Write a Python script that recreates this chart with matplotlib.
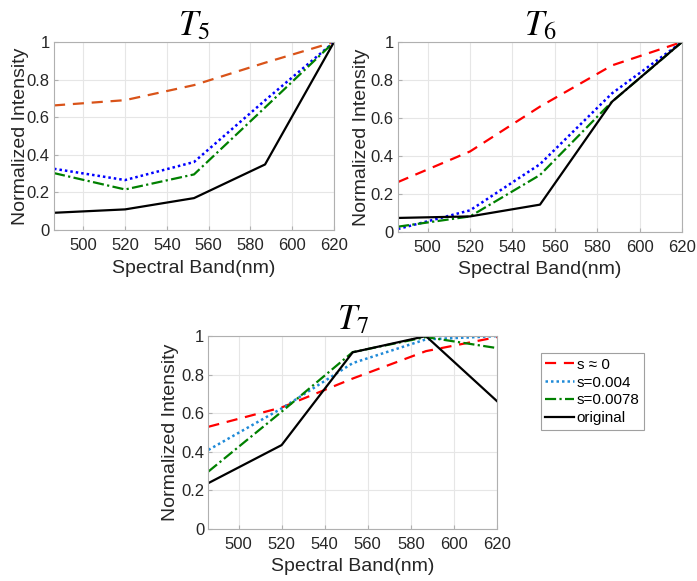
import matplotlib
matplotlib.use("Agg")
import matplotlib.pyplot as plt
from matplotlib.ticker import FormatStrFormatter

plt.rcParams['font.family'] = ['Liberation Sans', 'DejaVu Sans']
plt.rcParams['mathtext.fontset'] = 'stix'

bands = [486, 520, 553, 587, 620]
labels = ['s \u2248 0', 's=0.004', 's=0.0078', 'original']

# T5
t5_s0 = [0.663, 0.691, 0.771, 0.89, 1.0]
t5_s004 = [0.326, 0.266, 0.362, 0.69, 1.0]
t5_s0078 = [0.303, 0.216, 0.296, 0.652, 1.0]
t5_orig = [0.092, 0.11, 0.17, 0.349, 1.0]

# T6
t6_s0 = [0.263, 0.424, 0.66, 0.877, 1.0]
t6_s004 = [0.016, 0.114, 0.357, 0.73, 1.0]
t6_s0078 = [0.028, 0.082, 0.30, 0.686, 1.0]
t6_orig = [0.074, 0.082, 0.144, 0.686, 1.0]

# T7
t7_s0 = [0.53, 0.63, 0.78, 0.922, 0.995]
t7_s004 = [0.41, 0.625, 0.86, 0.983, 1.0]
t7_s0078 = [0.298, 0.608, 0.917, 0.995, 0.938]
t7_orig = [0.238, 0.435, 0.916, 1.0, 0.663]

fig = plt.figure(figsize=(6.97, 5.81), dpi=100)

def panel(rect, title, s0, s004, s0078, orig, red, blue, ylx, xly):
    ax = fig.add_axes(rect)
    l1, = ax.plot(bands, s0, color=red, ls=(0, (5, 3.5)), lw=1.6)
    l2, = ax.plot(bands, s004, color=blue, ls=(0, (1, 1.2)), lw=1.8)
    l3, = ax.plot(bands, s0078, color='#008000', ls=(0, (5, 1.5, 1, 1.5)), lw=1.6)
    l4, = ax.plot(bands, orig, color='black', lw=1.6)
    ax.set_xlim(486, 620)
    ax.set_ylim(0, 1)
    ax.set_xticks([500, 520, 540, 560, 580, 600, 620])
    ax.set_yticks([0, 0.2, 0.4, 0.6, 0.8, 1])
    ax.yaxis.set_major_formatter(FormatStrFormatter('%g'))
    ax.grid(True, color='#e6e6e6', lw=0.8)
    ax.set_axisbelow(True)
    for sp in ax.spines.values():
        sp.set_color('#b0b0b0')
    ax.tick_params(direction='in', length=3, colors='#b0b0b0',
                   labelcolor='#262626', labelsize=12)
    ax.tick_params(axis='x', pad=6)
    ax.tick_params(axis='y', pad=3)
    ax.set_xlabel('Spectral Band(nm)', fontsize=14, color='#262626', va='center')
    ax.set_ylabel('Normalized Intensity', fontsize=14, color='#262626', va='center')
    ax.xaxis.set_label_coords(0.5, xly)
    ax.yaxis.set_label_coords(ylx, 0.5)
    ax.set_title(title, fontsize=25, pad=4)
    return [l1, l2, l3, l4]

panel([0.0775, 0.604, 0.4017, 0.3236], r'$T_5$',
      t5_s0, t5_s004, t5_s0078, t5_orig, '#d95319', '#0000ff', -0.121, -0.202)
panel([0.571, 0.6007, 0.4075, 0.327], r'$T_6$',
      t6_s0, t6_s004, t6_s0078, t6_orig, '#ff0000', '#0000ff', -0.13, -0.2)
lines = panel([0.299, 0.0895, 0.414, 0.332], r'$T_7$',
              t7_s0, t7_s004, t7_s0078, t7_orig, '#ff0000', '#1f8ad8', -0.13, -0.195)

leg = fig.legend(lines, labels, loc='upper left', bbox_to_anchor=(0.776, 0.392),
                 fontsize=11, handlelength=1.85, handletextpad=0.2,
                 borderpad=0.3, labelspacing=0.25, borderaxespad=0,
                 fancybox=False, framealpha=1)
leg.get_frame().set_edgecolor('#a0a0a0')
leg.get_frame().set_linewidth(0.8)

fig.savefig('out.png', dpi=100)
